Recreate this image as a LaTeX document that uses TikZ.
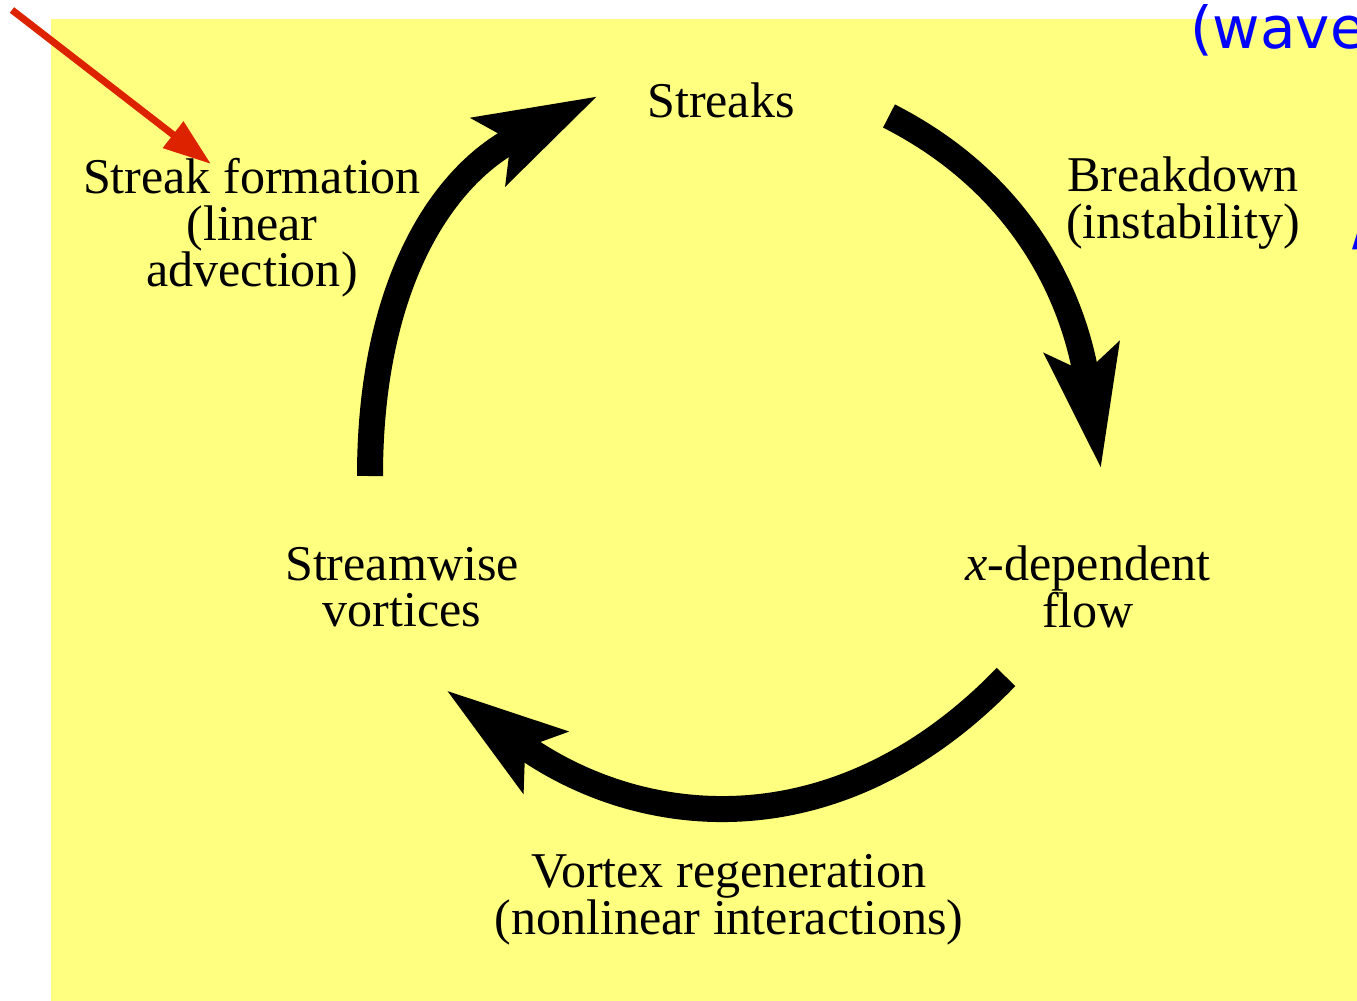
\documentclass[tikz,border=0pt]{standalone}
\usepackage{fontspec}
\setmainfont{Liberation Serif}
\newfontfamily\notefont{DejaVu Sans}
\usetikzlibrary{arrows.meta}
\definecolor{padyellow}{RGB}{255,255,128}
\definecolor{notered}{RGB}{221,34,0}
\definecolor{noteblue}{RGB}{0,0,255}
\tikzset{
  cyclebox/.style={align=center, inner sep=0pt,
    font={\fontsize{28.5}{26.5}\selectfont\color{black}}},
  cyclearrow/.style={line width=0.52cm, black,
    -{Stealth[length=2.4cm, width=1.45cm, inset=0.45cm]}},
  notearrow/.style={line width=0.14cm, notered,
    -{Triangle[length=0.96cm, width=0.64cm]}},
  notetext/.style={noteblue, inner sep=0pt, font={\notefont\fontsize{33}{33}\selectfont}}
}

\begin{document}
\begin{tikzpicture}[x=0.02cm, y=0.02cm]
  \clip (0,0) rectangle (1357,-1001);
  \fill[padyellow] (51,-19) rectangle (1357,-1001);

  % the four stages
  \node[cyclebox] (streaks) at (721,-100) {Streaks};
  \node[cyclebox] (xflow) at (1088,-587) {\textit{x}-dependent\\flow};
  \node[cyclebox] (vortices) at (402,-587) {Streamwise\\vortices};

  % processes
  \node[cyclebox] (formation) at (252,-228) {Streak formation\\(linear\\advection)};
  \node[cyclebox] (breakdown) at (1183,-203) {Breakdown\\(instability)};
  \node[cyclebox] (regen) at (729,-900) {Vortex regeneration\\(nonlinear interactions)};

  % arc ends
  \coordinate (formS) at (370,-476);
  \coordinate (formE) at (598,-96);
  \coordinate (breakS) at (889,-116);
  \coordinate (breakE) at (1101,-469);
  \coordinate (regenS) at (1006,-677);
  \coordinate (regenE) at (446,-690);

  \draw[cyclearrow] (formS) to[out=90, in=207, looseness=1.05] (formE);
  \draw[cyclearrow] (breakS) to[out=-27, in=99, looseness=1.0] (breakE);
  \draw[cyclearrow] (regenS) to[out=226, in=-36, looseness=1.1] (regenE);

  % annotations
  \coordinate (redtail) at (12,-10);
  \coordinate (redtip) at (211,-164);
  \draw[notearrow] (redtail) -- (redtip);

  \node[notetext, anchor=base west] (wave) at (1190,-48) {(wave};
  \node[notetext, anchor=base west] (slash) at (1352,-244) {/};
\end{tikzpicture}
\end{document}
